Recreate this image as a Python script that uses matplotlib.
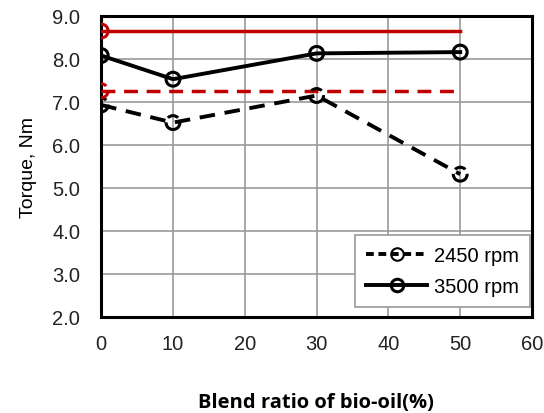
import matplotlib
matplotlib.use("Agg")
import matplotlib.pyplot as plt
from matplotlib.ticker import FormatStrFormatter
from matplotlib.lines import Line2D

blend = [0, 10, 30, 50]
torque_2450 = [6.93, 6.52, 7.15, 5.32]
torque_3500 = [8.08, 7.53, 8.13, 8.16]
ref_2450 = 7.26
ref_3500 = 8.65
ref_x = [0, 50]

plt.rcParams['font.family'] = ['Liberation Sans', 'DejaVu Sans']

fig = plt.figure(figsize=(5.44, 4.14), dpi=100)
ax = fig.add_axes([0.186, 0.232, 0.792, 0.727])

red = '#c00000'
# reference lines
ax.plot(ref_x, [ref_3500, ref_3500], color=red, lw=2.5, zorder=3)
ax.plot(ref_x, [ref_2450, ref_2450], color=red, lw=2.5, ls=(0, (4, 2.5)), zorder=3)

ax.plot(blend, torque_2450, color='black', lw=2.8, ls=(0, (4, 2.5)), zorder=5)
ax.scatter(blend, torque_2450, s=100, facecolors='none', edgecolors='black', linewidths=2.2,
           linestyles='--', zorder=6)
ax.plot(blend, torque_3500, color='black', lw=2.8, zorder=5)
ax.scatter(blend, torque_3500, s=100, facecolors='none', edgecolors='black', linewidths=2.2, zorder=6)

ax.scatter([0], [ref_3500], s=100, facecolors='none', edgecolors=red, linewidths=2.2, zorder=7)
ax.scatter([0], [ref_2450], s=100, facecolors='none', edgecolors=red, linewidths=2.2,
           linestyles='--', zorder=7)

ax.set_xlim(0, 60)
ax.set_ylim(2.0, 9.0)
ax.set_xticks(range(0, 61, 10))
ax.set_yticks([2, 3, 4, 5, 6, 7, 8, 9])
ax.yaxis.set_major_formatter(FormatStrFormatter('%.1f'))
ax.grid(True, color='#999999', lw=1.2)
ax.set_axisbelow(True)
for s in ax.spines.values():
    s.set_linewidth(2.2)
    s.set_color('black')
ax.tick_params(length=0, labelsize=14.5, colors='#222222')
ax.tick_params(axis='x', pad=12)
ax.tick_params(axis='y', pad=15)
ax.set_ylabel('Torque, Nm', fontsize=14, labelpad=11)

handles = [
    Line2D([], [], color='black', lw=2.8, ls=(0, (2, 1.2)), marker='o', ms=9,
           mfc='none', mec='black', mew=1.5),
    Line2D([], [], color='black', lw=2.8, marker='o', ms=9, mfc='none', mec='black', mew=2.2),
]
leg = ax.legend(handles, ['2450 rpm', '3500 rpm'], loc='lower right',
                bbox_to_anchor=(0.995, 0.033), borderaxespad=0, fontsize=14.5, fancybox=False,
                framealpha=1, edgecolor='#999999', handlelength=3.0, borderpad=0.55,
                labelspacing=0.6, handletextpad=0.35)
leg.get_frame().set_linewidth(1.2)

fig.text(316 / 544, 1 - 403 / 414, 'Blend ratio of bio-oil(%)', ha='center', va='center',
         fontsize=14.5, fontweight='bold', family=['Open Sans', 'DejaVu Sans'])

fig.savefig('out.png', dpi=100)
